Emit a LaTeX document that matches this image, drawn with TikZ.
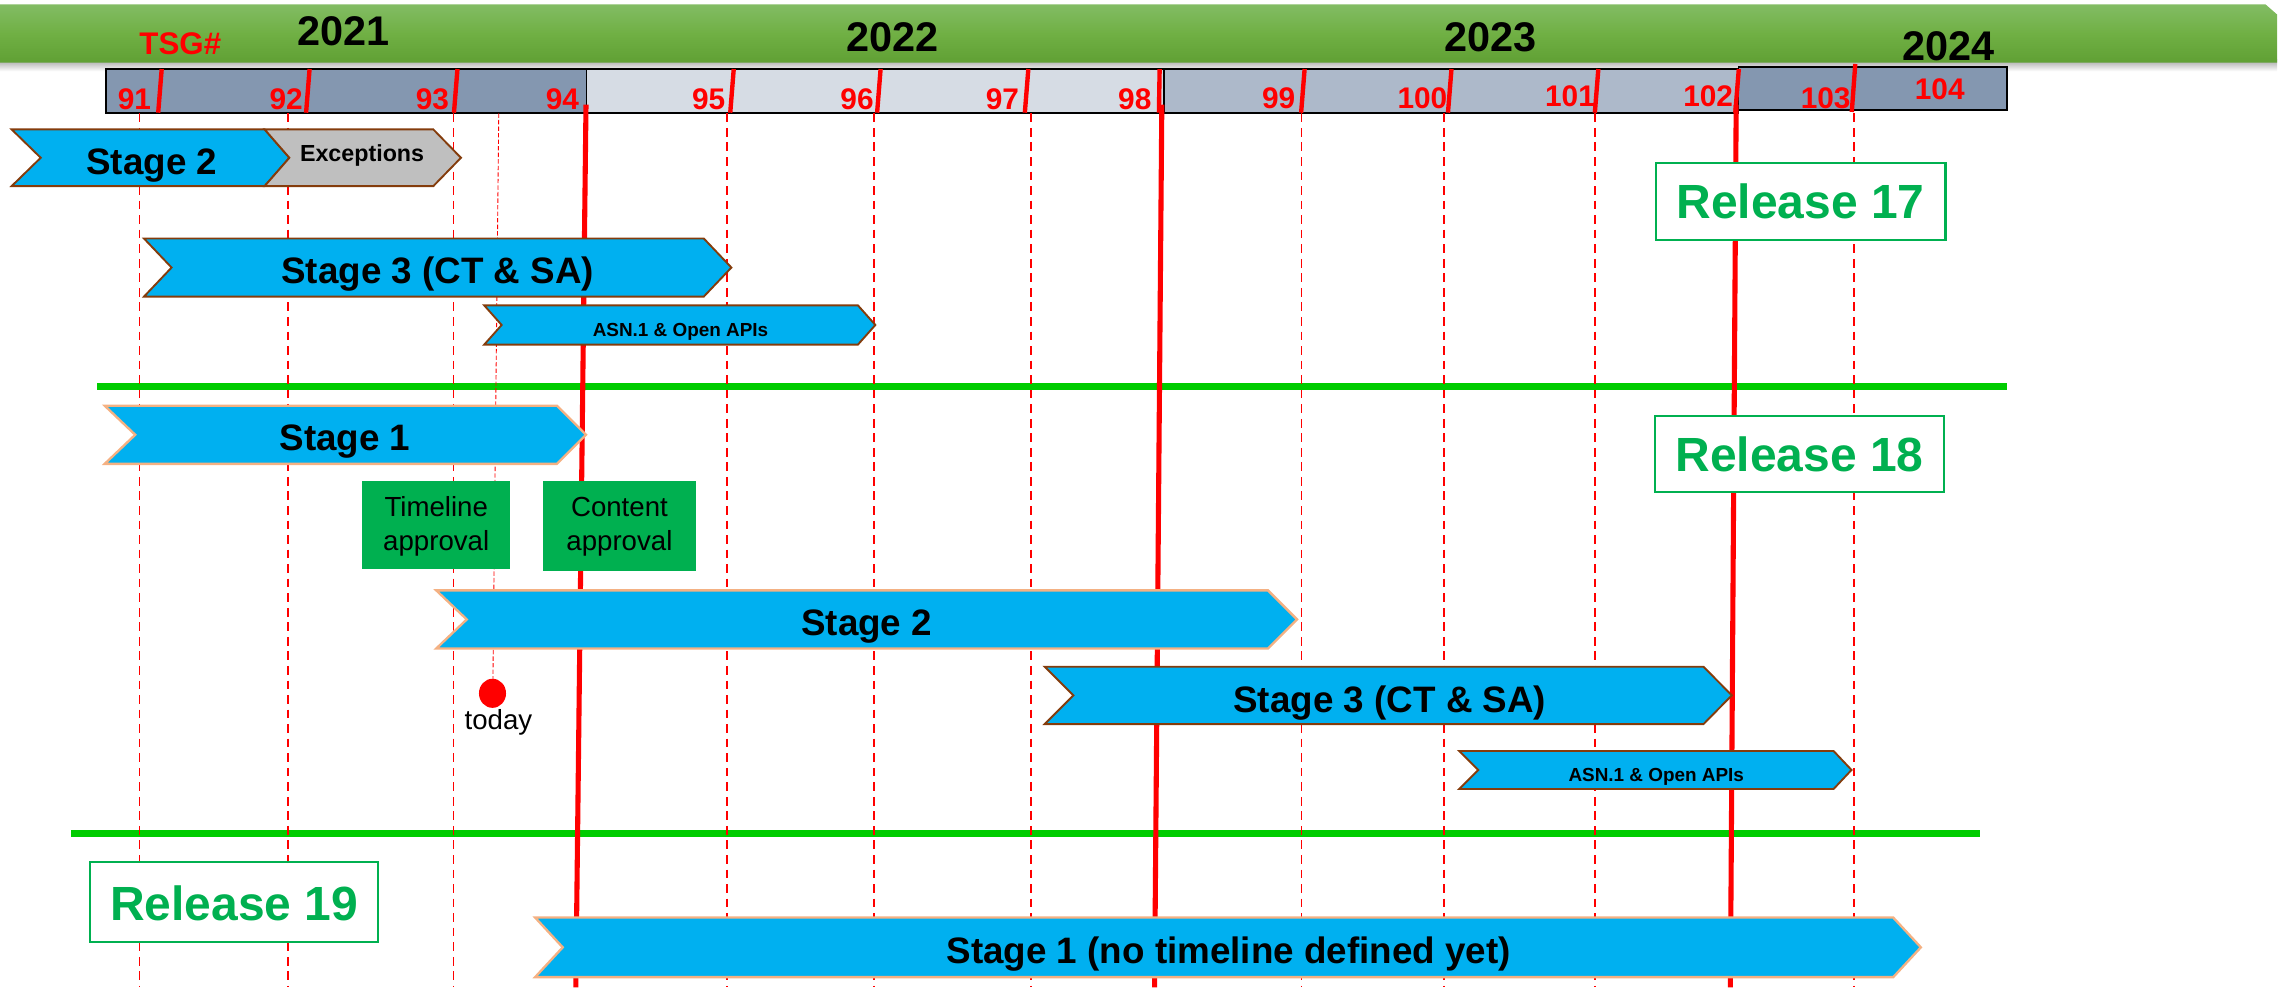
\documentclass[tikz,border=0pt]{standalone}
\usepackage{fontspec}
\setmainfont{Liberation Sans}
\definecolor{chevblue}{RGB}{0,176,240}
\definecolor{chevbrown}{RGB}{132,60,12}
\definecolor{chevorange}{RGB}{244,177,131}
\definecolor{excgray}{RGB}{191,191,191}
\definecolor{relgreen}{RGB}{0,176,80}
\definecolor{sepgreen}{RGB}{0,204,0}
\definecolor{gbtop}{RGB}{130,188,100}
\definecolor{gbmid}{RGB}{112,176,68}
\definecolor{gbbot}{RGB}{96,160,52}
\definecolor{segdark}{RGB}{132,151,176}
\definecolor{seglight}{RGB}{214,220,228}
\definecolor{segmid}{RGB}{173,185,202}
\tikzset{
  chevdark/.style={fill=chevblue, draw=chevbrown, line width=1.3pt, line join=miter},
  chevlite/.style={fill=chevblue, draw=chevorange, line width=1.6pt, line join=miter},
  chevgray/.style={fill=excgray, draw=chevbrown, line width=1.3pt, line join=miter},
  biglbl/.style={font=\fontsize{25.3}{30}\selectfont\bfseries, anchor=base, inner sep=0pt},
  smalllbl/.style={font=\fontsize{13}{15}\selectfont\bfseries, anchor=base, inner sep=0pt},
  exclbl/.style={font=\fontsize{16}{19}\selectfont\bfseries, anchor=base, inner sep=0pt},
  numlbl/.style={text=red, font=\fontsize{20.5}{24}\selectfont\bfseries, anchor=base east, inner sep=0pt},
  yearlbl/.style={font=\fontsize{28.5}{32}\selectfont\bfseries, anchor=base, inner sep=0pt},
  relbox/.style={draw=relgreen, fill=white, line width=1.5pt},
  reltext/.style={text=relgreen, font=\fontsize{33}{38}\selectfont\bfseries, anchor=base, inner sep=0pt},
  apprbox/.style={fill=relgreen, draw=none},
  apprtext/.style={font=\fontsize{19}{23}\selectfont, align=center, anchor=base, inner sep=0pt},
  dashv/.style={red, line width=1pt, dash pattern=on 6pt off 4pt},
  todayv/.style={red, line width=0.6pt, dash pattern=on 3pt off 1.5pt},
  thickv/.style={red, line width=3.5pt},
  tickmark/.style={red, line width=3pt},
  sepline/.style={sepgreen, line width=5pt},
  segbox/.style={draw=black, line width=1.2pt},
}
\begin{document}
\begin{tikzpicture}[x=1pt,y=-1pt]
\useasboundingbox (0,0) rectangle (1568,679);
% top green bar with shadow
\shade[top color=black!35, bottom color=white] (0,41) rectangle (1566,49);
\shade[top color=gbtop, bottom color=gbbot, middle color=gbmid]
  (0,3) -- (1558,3) -- (1566,10) -- (1566,43) -- (0,43) -- cycle;
\node[yearlbl] (y2021) at (236,31) {2021};
\node[yearlbl] (y2022) at (614,35.5) {2022};
\node[yearlbl] (y2023) at (1025,35.5) {2023};
\node[yearlbl] (y2024) at (1340,41.3) {2024};
\node[text=red, font=\fontsize{21.5}{25}\selectfont\bfseries, anchor=base, inner sep=0pt] (tsg) at (124,37.8) {TSG\#};
% timeline bar
\fill[segdark] (73,47.7) rectangle (403.4,77.5);
\fill[seglight] (403.4,47.7) rectangle (800.4,77.5);
\fill[segmid] (800.4,47.7) rectangle (1195.5,77.5);
\fill[segdark] (1195.5,46.3) rectangle (1380,75.7);
\draw[segbox] (73,47.7) rectangle (403.4,77.5);
\draw[segbox] (403.4,47.7) rectangle (800.4,77.5);
\draw[segbox] (800.4,47.7) rectangle (1195.5,77.5);
\draw[segbox] (1195.5,46.3) rectangle (1380,75.7);
% meeting numbers
\node[numlbl] (n91) at (104,75) {91};
\node[numlbl] (n92) at (208.4,75) {92};
\node[numlbl] (n93) at (309,75) {93};
\node[numlbl] (n94) at (398.4,75) {94};
\node[numlbl] (n95) at (499,75) {95};
\node[numlbl] (n96) at (601,75) {96};
\node[numlbl] (n97) at (701,75) {97};
\node[numlbl] (n98) at (792,75) {98};
\node[numlbl] (n99) at (891,74.5) {99};
\node[numlbl] (n100) at (995.5,74.5) {100};
\node[numlbl] (n101) at (1097,73.5) {101};
\node[numlbl] (n102) at (1192,73.2) {102};
\node[numlbl] (n103) at (1272.8,74.5) {103};
\node[text=red, font=\fontsize{20.5}{24}\selectfont\bfseries, anchor=base, inner sep=0pt] (n104) at (1334,68.3) {104};
% ticks
\foreach \t in {110,211.7,313.4,503.4,604.4,706,896,997,1098,1194.6}
  \draw[tickmark] (\t+1.2,47.5) -- (\t-1.2,77.5);
\draw[tickmark] (1275.9,44) -- (1273.5,77);
\draw[tickmark] (797.5,47.5) -- (797,77.5);
% separators
\draw[sepline] (67,266) -- (1380,266);
\draw[sepline] (49,573) -- (1362,573);
% vertical lines
\foreach \x in {96,198,312,500,601,709,895,993,1097,1275}
  \draw[dashv] (\x,78) -- (\x,679);
\draw[todayv] (343,78) -- (339,467);
\draw[thickv] (403,72) -- (396,679);
\draw[thickv] (799,72) -- (794,679);
\draw[thickv] (1194,72) -- (1190,679);
% Release 17
\draw[chevdark] (8,89) -- (182,89) -- (199,108.5) -- (182,128) -- (8,128) -- (28,108.5) -- cycle;
\node[biglbl] (r17s2) at (104.4,120) {Stage 2};
\draw[chevgray] (182,89) -- (298,89) -- (317,108.5) -- (298,128) -- (182,128) -- (199,108.5) -- cycle;
\node[exclbl] (r17exc) at (249,111.2) {Exceptions};
\draw[chevdark] (99,164) -- (484,164) -- (503,184) -- (484,204) -- (99,204) -- (118,184) -- cycle;
\node[biglbl] (r17s3) at (301,194.9) {Stage 3 (CT \& SA)};
\draw[chevdark] (333,210) -- (590,210) -- (602,223.5) -- (590,237) -- (333,237) -- (345,223.5) -- cycle;
\node[smalllbl] (r17asn) at (468,231.5) {ASN.1 \& Open APIs};
\draw[relbox] (1138.7,112) rectangle (1338,165);
\node[reltext] (rel17) at (1238.3,150.5) {Release 17};
% Release 18
\draw[chevlite] (72,279) -- (383,279) -- (403,299) -- (383,319) -- (72,319) -- (93,299) -- cycle;
\node[biglbl] (r18s1) at (237.3,309.5) {Stage 1};
\fill[apprbox] (249,331) rectangle (351,391);
\node[apprtext] (tlappr) at (300,378.3) {Timeline\\approval};
\fill[apprbox] (373.5,331) rectangle (478.5,393);
\node[apprtext] (ctappr) at (426,378.3) {Content\\approval};
\draw[chevlite] (300,406) -- (872,406) -- (892,426) -- (872,446) -- (300,446) -- (321,426) -- cycle;
\node[biglbl] (r18s2) at (596,436.7) {Stage 2};
\fill[red] (338.7,476.8) ellipse [x radius=9.3, y radius=10];
\node[font=\fontsize{19}{23}\selectfont, anchor=base, inner sep=0pt] (today) at (342.8,501.4) {today};
\draw[chevdark] (718.4,458.5) -- (1171.5,458.5) -- (1191,478.2) -- (1171.5,498) -- (718.4,498) -- (738.2,478.2) -- cycle;
\node[biglbl] (r18s3) at (955.8,490) {Stage 3 (CT \& SA)};
\draw[chevdark] (1003.5,516.5) -- (1261,516.5) -- (1273.3,529.5) -- (1261,542.6) -- (1003.5,542.6) -- (1016.6,529.5) -- cycle;
\node[smalllbl] (r18asn) at (1139,537.6) {ASN.1 \& Open APIs};
\draw[relbox] (1138,286) rectangle (1337,338.5);
\node[reltext] (rel18) at (1237.5,324) {Release 18};
% Release 19
\draw[relbox] (62,593) rectangle (260,648);
\node[reltext] (rel19) at (161,633) {Release 19};
\draw[chevlite] (368,631) -- (1302,631) -- (1321,651.5) -- (1302,672) -- (368,672) -- (387,651.5) -- cycle;
\node[biglbl] (r19s1) at (845,662.6) {Stage 1 (no timeline defined yet)};
\end{tikzpicture}
\end{document}
